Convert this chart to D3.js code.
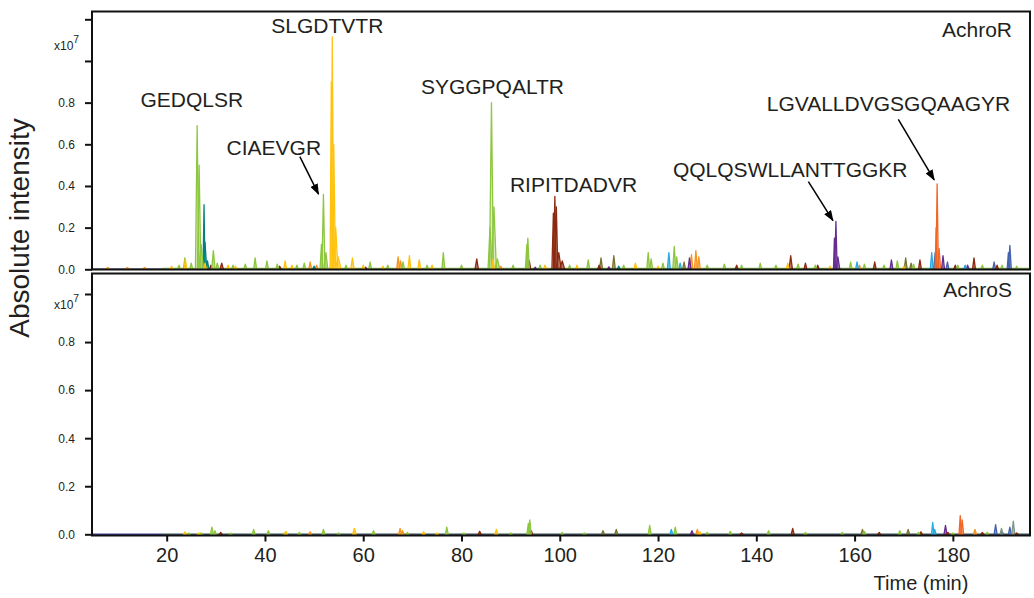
<!DOCTYPE html>
<html>
<head>
<meta charset="utf-8">
<script src="https://cdn.jsdelivr.net/npm/d3@7"></script>
<style>
body { margin: 0; background: #fff; }
text { font-family: "Liberation Sans", Arial, Helvetica, sans-serif; fill: #231f20; }
</style>
</head>
<body>
<script>
// axis ticks
var timeTicks = [20, 40, 60, 80, 100, 120, 140, 160, 180];
var intensityTicksR = [0, 0.2, 0.4, 0.6, 0.8, 1.0, 1.2];
var intensityTicksS = [0, 0.2, 0.4, 0.6, 0.8, 1.0];

// peaks: [time (min), intensity (x10^7), half width (min)]
// --- AchroR ---
var greenR = [[22.5,0.02,0.3],[23.7,0.055,0.3],[25.0,0.03,0.3],[26.2,0.69,0.35],[26.6,0.5,0.35],[27.0,0.12,0.5],
  [29.5,0.09,0.35],[30.3,0.03,0.3],[33.5,0.02,0.3],[36.0,0.025,0.3],[38.0,0.055,0.3],[40.4,0.04,0.3],[42.5,0.025,0.3],
  [46.5,0.02,0.3],[48.0,0.03,0.3],[51.5,0.12,0.3],[51.9,0.36,0.3],[52.4,0.08,0.4],[56.5,0.02,0.3],[61.4,0.035,0.3],
  [65.0,0.02,0.3],[68.1,0.035,0.3],[73.0,0.02,0.3],[76.3,0.08,0.3],[80.0,0.02,0.3],[85.8,0.2,0.4],[86.1,0.80,0.4],
  [86.6,0.3,0.5],[87.3,0.05,0.5],[90.5,0.02,0.3],[93.3,0.12,0.3],[93.5,0.15,0.3],[96.0,0.02,0.3],[102.0,0.02,0.3],
  [105.8,0.045,0.3],[113.0,0.02,0.3],[118.0,0.08,0.3],[118.6,0.05,0.3],[121.0,0.03,0.3],[123.3,0.11,0.3],[123.8,0.06,0.3],
  [130.0,0.02,0.3],[133.5,0.025,0.3],[137.0,0.02,0.3],[140.8,0.03,0.3],[144.0,0.02,0.3],[148.5,0.025,0.3],[152.0,0.02,0.3],
  [159.2,0.035,0.3],[162.0,0.025,0.3],[166.0,0.02,0.3],[168.7,0.04,0.3],[172.0,0.025,0.3],[181.0,0.02,0.3],
  [186.0,0.02,0.3],[190.0,0.02,0.3],[193.0,0.015,0.3]];
var yellowR = [[21.0,0.015,0.3],[23.8,0.05,0.25],[27.8,0.03,0.3],[32.5,0.02,0.3],[34.0,0.015,0.3],[44.1,0.04,0.3],
  [45.5,0.02,0.3],[53.5,0.9,0.25],[53.7,1.115,0.3],[54.0,0.6,0.35],[54.4,0.2,0.45],[54.9,0.06,0.6],[57.8,0.055,0.35],
  [60.0,0.02,0.3],[64.0,0.015,0.3],[69.4,0.065,0.3],[71.4,0.045,0.3],[74.0,0.02,0.3],[86.4,0.05,0.3],[97.0,0.02,0.3],
  [103.5,0.02,0.3],[115.4,0.03,0.3],[120.0,0.015,0.3],[146.4,0.03,0.3],[155.0,0.015,0.3],[170.0,0.015,0.3]];
var tealR = [[27.6,0.31,0.2],[27.8,0.13,0.35],[28.3,0.04,0.3],[50.0,0.015,0.3],[112.0,0.015,0.3]];
var brownR = [[29.0,0.02,0.3],[31.2,0.03,0.35],[43.0,0.015,0.3],[83.1,0.05,0.35],[93.8,0.04,0.3],[98.7,0.27,0.3],
  [99.0,0.35,0.3],[99.3,0.3,0.3],[99.8,0.08,0.5],[100.5,0.04,0.5],[108.0,0.02,0.3],[136.0,0.02,0.3],[147.0,0.065,0.35],
  [150.0,0.03,0.3],[152.5,0.02,0.3],[164.1,0.035,0.3],[173.3,0.045,0.3],[180.5,0.02,0.3],[184.3,0.055,0.3],[189.0,0.02,0.3]];
var orangeR = [[8.0,0.008,0.5],[12.0,0.008,0.5],[15.5,0.008,0.5],[49.2,0.035,0.3],[50.5,0.02,0.3],[67.1,0.06,0.3],
  [67.6,0.04,0.3],[88.0,0.015,0.3],[126.8,0.07,0.3],[127.7,0.09,0.3],[128.3,0.06,0.3],[161.0,0.02,0.3]];
var redOrangeR = [[176.6,0.2,0.2],[176.8,0.41,0.25],[177.2,0.1,0.3]];
var purpleR = [[60.5,0.01,0.3],[95.0,0.01,0.3],[110.0,0.012,0.3],[126.4,0.055,0.3],[155.9,0.15,0.2],[156.2,0.23,0.25],
  [156.6,0.06,0.4],[167.5,0.045,0.3],[178.0,0.065,0.3],[183.0,0.02,0.3]];
var blueR = [[176.4,0.08,0.3],[178.9,0.035,0.3],[188.4,0.035,0.3],[191.3,0.08,0.25],[191.6,0.115,0.3]];
var cyanR = [[122.2,0.08,0.3],[124.5,0.03,0.3],[160.5,0.035,0.3],[175.7,0.08,0.3],[182.5,0.02,0.3]];
var oliveR = [[108.4,0.055,0.3],[111.0,0.065,0.3],[125.3,0.035,0.3],[170.4,0.055,0.3],[171.5,0.03,0.3]];

// --- AchroS ---
var greenS = [[24.5,0.005,0.3],[27.0,0.006,0.3],[29.2,0.03,0.3],[29.8,0.015,0.3],[33.0,0.005,0.3],[37.7,0.02,0.3],
  [40.7,0.015,0.3],[44.0,0.006,0.3],[47.0,0.008,0.3],[51.9,0.02,0.3],[55.0,0.006,0.3],[62.1,0.015,0.3],[69.0,0.008,0.3],
  [77.0,0.03,0.3],[80.5,0.006,0.3],[90.0,0.006,0.3],[93.6,0.045,0.3],[93.9,0.06,0.3],[100.5,0.008,0.3],[105.0,0.006,0.3],
  [118.3,0.037,0.3],[123.5,0.03,0.3],[130.0,0.008,0.3],[134.7,0.012,0.3],[142.5,0.015,0.3],[150.0,0.008,0.3],
  [157.5,0.008,0.3],[162.0,0.012,0.3],[169.2,0.015,0.3],[173.0,0.008,0.3],[180.0,0.006,0.3],[187.0,0.008,0.3]];
var yellowS = [[23.7,0.01,0.3],[26.5,0.006,0.3],[44.3,0.012,0.3],[58.2,0.025,0.35],[72.3,0.01,0.3],[75.0,0.006,0.3],
  [87.1,0.02,0.3],[128.5,0.01,0.3]];
var brownS = [[31.0,0.008,0.3],[83.7,0.012,0.3],[94.2,0.015,0.3],[137.0,0.006,0.3],[147.4,0.025,0.3],[165.0,0.008,0.3],
  [173.5,0.01,0.3],[179.0,0.008,0.3],[186.0,0.008,0.3],[193.0,0.006,0.3]];
var orangeS = [[49.2,0.01,0.3],[67.5,0.025,0.3],[68.0,0.015,0.3],[128.0,0.02,0.3],[184.5,0.02,0.3]];
var redOrangeS = [[181.5,0.078,0.25],[181.9,0.06,0.3]];
var purpleS = [[126.9,0.015,0.3],[178.5,0.037,0.3],[190.0,0.012,0.3]];
var blueS = [[188.7,0.04,0.3],[191.6,0.03,0.3]];
var cyanS = [[122.7,0.02,0.3],[175.9,0.05,0.25],[176.3,0.02,0.3]];
var oliveS = [[108.8,0.015,0.3],[111.5,0.02,0.3],[161.6,0.02,0.3],[170.9,0.02,0.3]];
var greyGreenS = [[189.9,0.025,0.3],[192.3,0.055,0.3]];

// peptide labels (AchroR), position in data units, optional arrow to the peak
var peptideLabels = [
  {text: "GEDQLSR", t: 25.1, v: 0.779},
  {text: "SLGDTVTR", t: 52.7, v: 1.134},
  {text: "CIAEVGR", t: 41.8, v: 0.549, from: [47.1, 0.541], to: [50.9, 0.361]},
  {text: "SYGGPQALTR", t: 86.3, v: 0.842},
  {text: "RIPITDADVR", t: 102.8, v: 0.370},
  {text: "QQLQSWLLANTTGGKR", t: 146.9, v: 0.442, from: [150.6, 0.421], to: [155.6, 0.234]},
  {text: "LGVALLDVGSGQAAGYR", t: 166.9, v: 0.762, from: [168.9, 0.720], to: [176.2, 0.429]}
];

var colors = {
  green: "#8dc63f", yellow: "#ffc20e", teal: "#00807f", brown: "#8b2a10", orange: "#f7941d",
  redOrange: "#f26522", purple: "#662d91", blue: "#4563ad", cyan: "#27aae1", olive: "#7a7430", greyGreen: "#7f978a"
};

var width = 1034, height = 598;
var left = 92, right = 1030;

var svg = d3.select("body")
    .append("svg")
    .attr("width", width)
    .attr("height", height);

var x = d3.scaleLinear().domain([4.8, 195.7]).range([left, right]);

var panels = [
  {name: "AchroR", top: 11.5, bottom: 269.5, ticks: intensityTicksR,
   y: d3.scaleLinear().domain([0, 1.2]).range([269.3, 19.3]), mult: 50, floor: 0.008,
   traces: [["orange", orangeR], ["purple", purpleR], ["olive", oliveR], ["cyan", cyanR], ["blue", blueR],
            ["brown", brownR], ["teal", tealR], ["green", greenR], ["yellow", yellowR], ["redOrange", redOrangeR]]},
  {name: "AchroS", top: 273.5, bottom: 535.5, ticks: intensityTicksS,
   y: d3.scaleLinear().domain([0, 1.0]).range([534.3, 294]), mult: 309.3, floor: 0.003,
   traces: [["orange", orangeS], ["purple", purpleS], ["olive", oliveS], ["cyan", cyanS], ["blue", blueS],
            ["greyGreen", greyGreenS], ["brown", brownS], ["green", greenS], ["yellow", yellowS], ["redOrange", redOrangeS]]}
];

var defs = svg.append("defs");
defs.append("marker")
    .attr("id", "head")
    .attr("markerUnits", "userSpaceOnUse")
    .attr("markerWidth", 11)
    .attr("markerHeight", 8)
    .attr("refX", 10)
    .attr("refY", 4)
    .attr("orient", "auto")
    .append("path")
    .attr("d", "M0,0 L11,4 L0,8 Z")
    .attr("fill", "#000");

panels.forEach(function(p, i) {
    var y = p.y;
    defs.append("clipPath")
        .attr("id", "clip" + i)
        .append("rect")
        .attr("x", left).attr("y", p.top)
        .attr("width", right - left).attr("height", p.bottom - p.top);

    var g = svg.append("g").attr("clip-path", "url(#clip" + i + ")");

    // zero line and baseline noise floor
    g.append("line")
        .attr("x1", left).attr("x2", right)
        .attr("y1", y(0)).attr("y2", y(0))
        .attr("stroke", "#3b3f99").attr("stroke-width", 1.5);
    g.append("rect")
        .attr("x", x(19)).attr("width", x(195.5) - x(19))
        .attr("y", y(p.floor)).attr("height", y(0) - y(p.floor))
        .attr("fill", colors.green).attr("opacity", 0.7);

    var area = d3.area()
        .x(function(d) { return x(d[0]); })
        .y0(y(0))
        .y1(function(d) { return y(d[1]); });

    p.traces.forEach(function(tr) {
        g.append("g")
            .selectAll("path")
            .data(tr[1])
            .enter()
            .append("path")
            .attr("d", function(d) { return area([[d[0] - d[2], 0], [d[0], d[1]], [d[0] + d[2], 0]]); })
            .attr("fill", colors[tr[0]])
            // tall peaks read as outlines in the original, small bumps as filled
            .attr("fill-opacity", function(d) { return d[1] > 0.15 ? 0.3 : 0.6; })
            .attr("stroke", colors[tr[0]])
            .attr("stroke-width", 1.3)
            .attr("stroke-linejoin", "round");
    });

    // frame
    svg.append("rect")
        .attr("x", left).attr("y", p.top)
        .attr("width", right - left).attr("height", p.bottom - p.top)
        .attr("fill", "none")
        .attr("stroke", "#111")
        .attr("stroke-width", 2);

    // y axis
    var yAxis = svg.append("g")
        .attr("transform", "translate(" + left + ",0)")
        .call(d3.axisLeft(y)
            .tickValues(p.ticks)
            .tickSize(7)
            .tickPadding(10)
            .tickFormat(function(d) { return d <= 0.8 ? d3.format(".1f")(d) : ""; }));
    yAxis.select(".domain").remove();
    yAxis.selectAll(".tick line").attr("stroke", "#111").attr("stroke-width", 2);
    yAxis.selectAll(".tick text").attr("font-size", 12).attr("fill", "#231f20")
        .style("font-family", "'Liberation Sans', Arial, sans-serif");

    var m = svg.append("text")
        .attr("x", 54)
        .attr("y", p.mult)
        .attr("font-size", 12);
    m.append("tspan").text("x10");
    m.append("tspan").attr("dy", -7).attr("font-size", 10.5).text("7");

    svg.append("text")
        .attr("x", 1012)
        .attr("y", p.top + (i === 0 ? 25 : 23))
        .attr("text-anchor", "end")
        .attr("font-size", 21)
        .text(p.name);
});

// x axis under the AchroS panel
var xAxis = svg.append("g")
    .attr("transform", "translate(0," + 535.5 + ")")
    .call(d3.axisBottom(x).tickValues(timeTicks).tickSize(6).tickPadding(6).tickFormat(d3.format("d")));
xAxis.select(".domain").remove();
xAxis.selectAll(".tick line").attr("stroke", "#111").attr("stroke-width", 2);
xAxis.selectAll(".tick text").attr("font-size", 20).attr("fill", "#231f20")
    .style("font-family", "'Liberation Sans', Arial, sans-serif");

svg.append("text")
    .attr("x", 921)
    .attr("y", 590)
    .attr("text-anchor", "middle")
    .attr("font-size", 20)
    .text("Time (min)");

svg.append("text")
    .attr("transform", "translate(28.5,228) rotate(-90)")
    .attr("text-anchor", "middle")
    .attr("font-size", 28)
    .text("Absolute intensity");

// peptide annotations
var yR = panels[0].y;
svg.selectAll("text.pep")
    .data(peptideLabels)
    .enter()
    .append("text")
    .attr("class", "pep")
    .attr("x", function(d) { return x(d.t); })
    .attr("y", function(d) { return yR(d.v); })
    .attr("text-anchor", "middle")
    .attr("font-size", 21)
    .text(function(d) { return d.text; });

svg.selectAll("line.arrow")
    .data(peptideLabels.filter(function(d) { return d.from; }))
    .enter()
    .append("line")
    .attr("class", "arrow")
    .attr("x1", function(d) { return x(d.from[0]); })
    .attr("y1", function(d) { return yR(d.from[1]); })
    .attr("x2", function(d) { return x(d.to[0]); })
    .attr("y2", function(d) { return yR(d.to[1]); })
    .attr("stroke", "#000")
    .attr("stroke-width", 1.5)
    .attr("marker-end", "url(#head)");
</script>
</body>
</html>
